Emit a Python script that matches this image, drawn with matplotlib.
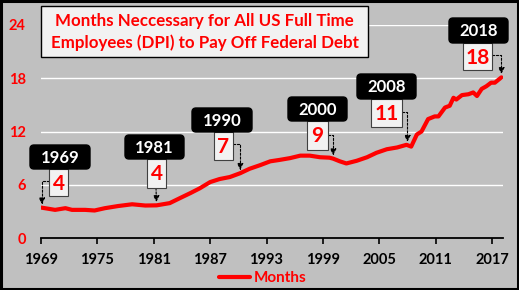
import numpy as np
import matplotlib
matplotlib.use("Agg")
import matplotlib.pyplot as plt
import matplotlib.transforms as mtransforms
from matplotlib.patches import FancyBboxPatch, Rectangle

#------------------------------------
# Data
#------------------------------------

years = [1969.0, 1970.5, 1971.6, 1972.3, 1973.7, 1974.7, 1975.8, 1977.2, 1978.7,
         1980.1, 1981.3, 1982.7, 1983.8, 1984.9, 1985.9, 1987.0, 1988.0, 1989.1,
         1990.2, 1991.2, 1992.3, 1993.4, 1994.4, 1995.5, 1996.6, 1997.6, 1998.7,
         1999.7, 2000.1, 2000.8, 2001.5, 2002.6, 2003.7, 2004.7, 2005.8, 2006.9,
         2007.9, 2008.4, 2009.0, 2009.5, 2010.2, 2010.9, 2011.3, 2012.0, 2012.5,
         2012.9, 2013.2, 2013.8, 2014.5, 2015.0, 2015.4, 2015.9, 2016.4, 2016.9,
         2017.3, 2018.0]
months = [3.43, 3.17, 3.36, 3.17, 3.17, 3.10, 3.36, 3.60, 3.80,
          3.66, 3.68, 3.93, 4.50, 5.06, 5.60, 6.30, 6.64, 6.87,
          7.30, 7.80, 8.20, 8.64, 8.80, 9.00, 9.28, 9.28, 9.10,
          9.05, 8.94, 8.64, 8.40, 8.70, 9.10, 9.60, 10.00, 10.20,
          10.50, 10.30, 11.66, 12.00, 13.40, 13.70, 13.70, 14.70, 14.90,
          15.80, 15.60, 16.10, 16.20, 16.40, 16.00, 16.80, 17.10, 17.50,
          17.50, 18.10]

xticks = [1969, 1975, 1981, 1987, 1993, 1999, 2005, 2011, 2017]
yticks = [0, 6, 12, 18, 24]

title = "Months Neccessary for All US Full Time\nEmployees (DPI) to Pay Off Federal Debt"

ann_years = ["1969", "1981", "1990", "2000", "2008", "2018"]
ann_values = ["4", "4", "7", "9", "11", "18"]
ann_x = [1969.1, 1981.3, 1990.2, 2000.1, 2008.0, 2018.0]

#------------------------------------
# Layout (pixels, origin top-left)
#------------------------------------

W, H, DPI = 519, 290, 100
RED = "#ff0000"
BG = "#c0c0c0"
FONT = "Lato"

# black year boxes (x0, y0, w, h)
year_boxes = [(30, 145, 60, 24), (125, 135, 59, 24), (192, 108, 60, 24),
              (288, 97, 59, 24), (357, 74, 59, 25), (449, 18, 59, 25)]
# white value boxes
val_boxes = [(49, 169, 19, 27), (147, 159, 19, 29), (214, 132, 19, 28),
             (307, 121, 21, 29), (371, 99, 31, 28), (463, 43, 29, 27)]
# where the dashed arrow leaves the value box, and whether it bends
arrow_start = [(49, 181, True), (156, 188, False), (233, 144, True),
               (328, 135, True), (402, 112, True), (492, 55, True)]

fig = plt.figure(figsize=(W / DPI, H / DPI), dpi=DPI, facecolor=BG)
pix = mtransforms.Affine2D().scale(1, -1).translate(0, H).scale(1 / DPI) + fig.dpi_scale_trans

ax = fig.add_axes([41 / W, 1 - 238 / H, (503 - 41) / W, (238 - 25) / H])
ax.set_facecolor(BG)

ax.plot(years, months, color=RED, lw=3.0, label="Months", zorder=3,
        solid_capstyle="round", solid_joinstyle="round")

ax.set_xlim(1969, 2018.17)
ax.set_ylim(0, 24)
ax.set_xticks(xticks)
ax.set_yticks(yticks)
for y in yticks[1:]:
    ax.axhline(y, color="white", lw=1, zorder=1)

for s in ["top", "right", "left"]:
    ax.spines[s].set_visible(False)
ax.spines["bottom"].set_linewidth(1.3)
ax.tick_params(axis="x", length=4, width=1.2, pad=7, labelsize=10.5)
ax.tick_params(axis="y", length=0, pad=11, labelsize=10.5, labelcolor=RED)
for lab in ax.get_xticklabels() + ax.get_yticklabels():
    lab.set_fontfamily(FONT)
    lab.set_fontweight("bold")

leg = ax.legend(loc="center", bbox_to_anchor=(263 / W, 1 - 278 / H),
                bbox_transform=fig.transFigure, frameon=False, handlelength=2.0,
                handletextpad=0.3, prop={"family": FONT, "weight": "bold", "size": 11})
for t in leg.get_texts():
    t.set_color(RED)

# title box
fig.add_artist(Rectangle((41, 6), 327, 51, transform=pix, facecolor="#f2f2f2",
                         edgecolor="black", lw=1.0, zorder=5))
fig.text(204.5, 32, title, transform=pix, ha="center", va="center", color=RED,
         fontsize=12.2, fontweight="bold", family=FONT, linespacing=1.4, zorder=6)

# annotations
for i in range(len(ann_years)):
    vx, vy, vw, vh = val_boxes[i]
    fig.add_artist(Rectangle((vx, vy), vw, vh, transform=pix, facecolor="#f2f2f2",
                             edgecolor="#404040", lw=0.8, zorder=5))
    fig.text(vx + vw / 2, vy + vh / 2 + 1, ann_values[i], transform=pix, ha="center",
             va="center", color=RED, fontsize=15, fontweight="bold", family=FONT, zorder=6)
    bx, by, bw, bh = year_boxes[i]
    fig.add_artist(FancyBboxPatch((bx, by), bw, bh, transform=pix,
                                  boxstyle="round,pad=0,rounding_size=4",
                                  facecolor="black", edgecolor="black", zorder=7))
    fig.text(bx + bw / 2, by + bh / 2 + 1, ann_years[i], transform=pix, ha="center",
             va="center", color="white", fontsize=12, fontweight="bold", family=FONT, zorder=8)

    sx, sy, bend = arrow_start[i]
    ty = np.interp(ann_x[i], years, months)
    cs = "angle,angleA=0,angleB=90,rad=0" if bend else "arc3"
    ax.annotate("", xy=(ann_x[i], ty), xycoords="data", xytext=(sx, sy), textcoords=pix,
                arrowprops=dict(arrowstyle="-|>", linestyle=(0, (2, 1.5)), color="black",
                                lw=0.8, connectionstyle=cs, mutation_scale=9,
                                shrinkA=0, shrinkB=2.5),
                annotation_clip=False, zorder=4)

# outer frame
fig.add_artist(Rectangle((1, 1), W - 2, H - 2, transform=pix, facecolor="none",
                         edgecolor="black", lw=2.2, zorder=10))

fig.savefig("out.png", dpi=DPI, facecolor=BG)
